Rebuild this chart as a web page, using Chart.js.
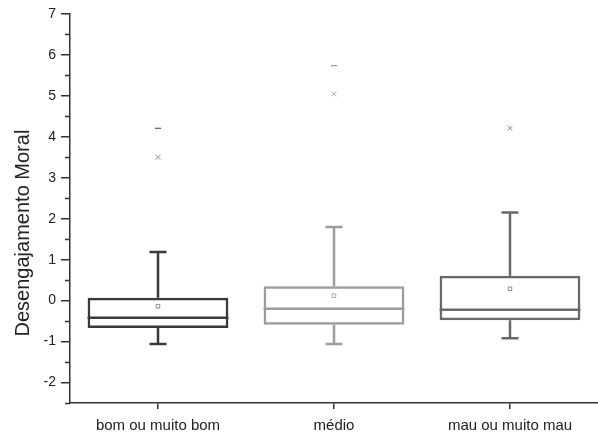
<!DOCTYPE html>
<html>
<head>
<meta charset="utf-8">
<script src="https://cdn.jsdelivr.net/npm/chart.js@4/dist/chart.umd.min.js"></script>
<style>
    html, body { margin: 0; padding: 0; background: #fff; }
    #wrap { width: 598px; height: 434px; }
</style>
</head>
<body>
<div id="wrap"><canvas id="chart"></canvas></div>
<script>
// Box plot data
const categories = ['bom ou muito bom', 'médio', 'mau ou muito mau'];
const q1 = [-0.67, -0.59, -0.48];
const q3 = [0.07, 0.35, 0.61];
const medians = [-0.42, -0.20, -0.22];
const whiskerLow = [-1.06, -1.06, -0.92];
const whiskerHigh = [1.19, 1.80, 2.15];
const means = [-0.14, 0.12, 0.29];
const pct99 = [3.5, 5.05, 4.21];
const maxima = [4.21, 5.74, null];
const yTickLabels = [-2, -1, 0, 1, 2, 3, 4, 5, 6, 7];
const yTitle = 'Desengajamento Moral';

const boxColors = ['#3a3a3a', '#9c9c9c', '#686868'];
const markColors = ['#8a8a8a', '#a8a8a8', '#8a8a8a'];
const axisColor = '#333';
const fontFamily = 'Liberation Sans, Arial, sans-serif';

/**
 * Draws median lines, whiskers and caps from the bar elements
 */
const boxPlotPlugin = {
    id: 'boxPlot',
    afterDatasetsDraw(chart) {
        const ctx = chart.ctx;
        const y = chart.scales.y;
        const meta = chart.getDatasetMeta(0);
        meta.data.forEach((bar, i) => {
            const half = bar.width / 2;
            const capHalf = 8.5;
            ctx.save();
            ctx.strokeStyle = boxColors[i];
            ctx.lineWidth = 2.5;
            ctx.beginPath();
            // median
            ctx.moveTo(bar.x - half, y.getPixelForValue(medians[i]));
            ctx.lineTo(bar.x + half, y.getPixelForValue(medians[i]));
            // upper whisker
            ctx.moveTo(bar.x, y.getPixelForValue(q3[i]));
            ctx.lineTo(bar.x, y.getPixelForValue(whiskerHigh[i]));
            ctx.moveTo(bar.x - capHalf, y.getPixelForValue(whiskerHigh[i]));
            ctx.lineTo(bar.x + capHalf, y.getPixelForValue(whiskerHigh[i]));
            // lower whisker
            ctx.moveTo(bar.x, y.getPixelForValue(q1[i]));
            ctx.lineTo(bar.x, y.getPixelForValue(whiskerLow[i]));
            ctx.moveTo(bar.x - capHalf, y.getPixelForValue(whiskerLow[i]));
            ctx.lineTo(bar.x + capHalf, y.getPixelForValue(whiskerLow[i]));
            ctx.stroke();
            ctx.restore();
        });
    }
};

/**
 * Minor ticks on the y axis (half steps) and the rotated y title
 */
const axisExtrasPlugin = {
    id: 'axisExtras',
    afterDraw(chart) {
        const ctx = chart.ctx;
        const y = chart.scales.y;
        const left = chart.chartArea.left;
        ctx.save();
        ctx.strokeStyle = axisColor;
        ctx.lineWidth = 1.5;
        ctx.beginPath();
        for (let v = y.min; v < y.max; v += 1) {
            const py = Math.round(y.getPixelForValue(v)) + 0.5;
            ctx.moveTo(left - 5, py);
            ctx.lineTo(left, py);
        }
        ctx.stroke();

        // y title, a bit below the plot centre as in the figure
        ctx.translate(23, y.getPixelForValue(1.65));
        ctx.rotate(-Math.PI / 2);
        ctx.fillStyle = '#222';
        ctx.font = '20px ' + fontFamily;
        ctx.textAlign = 'center';
        ctx.textBaseline = 'middle';
        ctx.fillText(yTitle, 0, 0);
        ctx.restore();
    }
};

const chart = new Chart(document.getElementById('chart'), {
    type: 'bar',
    data: {
        labels: categories,
        datasets: [
            {
                label: 'box',
                data: q1.map((v, i) => [v, q3[i]]),
                backgroundColor: 'rgba(0,0,0,0)',
                borderColor: boxColors,
                borderWidth: 2.5,
                borderSkipped: false,
                barPercentage: 0.8,
                categoryPercentage: 1.0
            },
            {
                type: 'line',
                label: 'mean',
                data: means,
                showLine: false,
                pointStyle: 'rect',
                pointRadius: 2.5,
                pointBorderWidth: 1,
                pointBorderColor: markColors,
                pointBackgroundColor: 'rgba(0,0,0,0)'
            },
            {
                type: 'line',
                label: '99%',
                data: pct99,
                showLine: false,
                pointStyle: 'crossRot',
                pointRadius: 3.5,
                pointBorderWidth: 1,
                pointBorderColor: markColors
            },
            {
                type: 'line',
                label: 'max',
                data: maxima,
                showLine: false,
                pointStyle: 'line',
                pointRadius: 3,
                pointBorderWidth: 1.2,
                pointBorderColor: boxColors
            }
        ]
    },
    options: {
        responsive: true,
        maintainAspectRatio: false,
        animation: false,
        layout: {
            autoPadding: false,
            padding: { top: 14, right: 0, left: 0, bottom: 0 }
        },
        plugins: {
            legend: { display: false },
            tooltip: { enabled: false }
        },
        scales: {
            x: {
                offset: true,
                grid: {
                    display: true,
                    offset: false,
                    drawOnChartArea: false,
                    tickLength: 6,
                    color: axisColor,
                    lineWidth: 1.5
                },
                border: { color: axisColor, width: 1.5 },
                ticks: {
                    color: '#222',
                    padding: 8,
                    maxRotation: 0,
                    font: { family: fontFamily, size: 15 }
                },
                afterFit(scale) { scale.height = 31; }
            },
            y: {
                min: -2.5,
                max: 7,
                afterBuildTicks(scale) {
                    scale.ticks = yTickLabels.map(v => ({ value: v }));
                },
                grid: {
                    display: true,
                    drawOnChartArea: false,
                    tickLength: 9,
                    color: axisColor,
                    lineWidth: 1.5
                },
                border: { color: axisColor, width: 1.5 },
                ticks: {
                    color: '#222',
                    padding: 5,
                    font: { family: fontFamily, size: 14 }
                },
                afterFit(scale) { scale.width = 70; }
            }
        }
    },
    plugins: [boxPlotPlugin, axisExtrasPlugin]
});
</script>
</body>
</html>
